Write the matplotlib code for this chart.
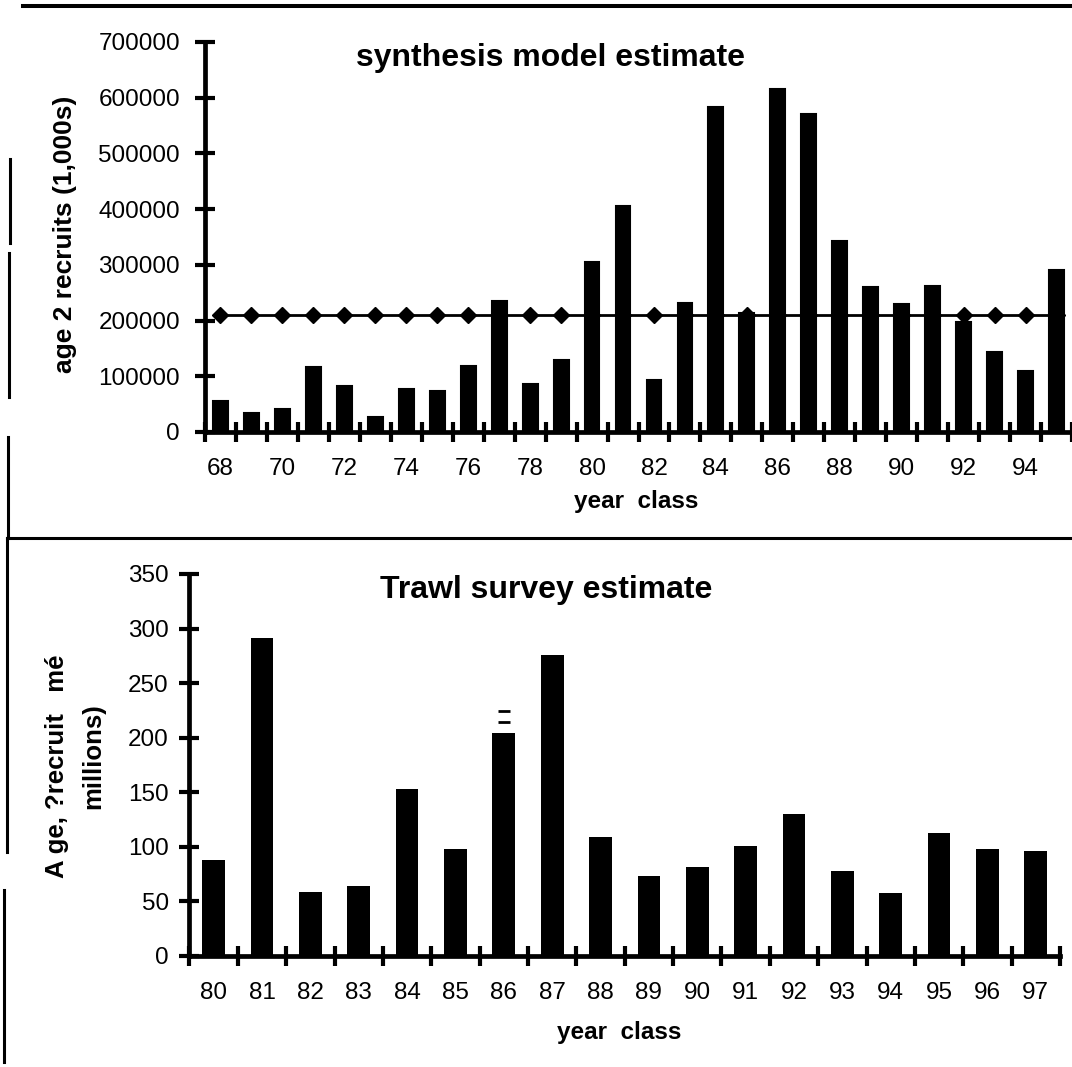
import matplotlib
matplotlib.use("Agg")
import matplotlib.pyplot as plt
from matplotlib.lines import Line2D

plt.rcParams['font.family'] = ['Liberation Sans', 'DejaVu Sans']

# synthesis model: age 2 recruits (1,000s) per year class
model_years = list(range(68, 96))
model_recruits = [55000, 35000, 41000, 117000, 83000, 27000, 78000, 74000, 119000, 236000,
                  86000, 129000, 306000, 405000, 93000, 232000, 584000, 213000, 616000, 570000,
                  343000, 260000, 230000, 262000, 198000, 144000, 109000, 290000]
model_mean = 210000
model_yticks = [0, 100000, 200000, 300000, 400000, 500000, 600000, 700000]

# trawl survey: age 2 recruits (millions) per year class
survey_years = list(range(80, 98))
survey_recruits = [88, 291, 59, 64, 153, 98, 204, 276, 109, 73.5,
                   82, 101, 130, 78, 58, 113, 98, 96]
survey_yticks = [0, 50, 100, 150, 200, 250, 300, 350]
marks_86 = [214, 224.5]

W, H = 1072, 1067
fig = plt.figure(figsize=(W / 100, H / 100), dpi=100)


def box(left, top, right, bottom):
    return [left / W, 1 - bottom / H, (right - left) / W, (bottom - top) / H]


def style_axes(ax, ypad):
    for s in ['top', 'right']:
        ax.spines[s].set_visible(False)
    for s in ['left', 'bottom']:
        ax.spines[s].set_linewidth(3.4)
    ax.tick_params(axis='y', direction='inout', length=14.4, width=3, pad=ypad, labelsize=17.5)
    ax.tick_params(axis='x', which='major', length=0, pad=19, labelsize=17.5)
    ax.tick_params(axis='x', which='minor', direction='inout', length=15, width=3)


# top panel
ax1 = fig.add_axes(box(205, 42, 1072, 432))
x1 = list(range(len(model_years)))
ax1.bar(x1, model_recruits, width=0.48, color='black', edgecolor='black', lw=1.5, zorder=3)
ax1.plot(x1, [model_mean] * len(x1), color='black', lw=2, marker='D', ms=8, zorder=2)
ax1.set_xlim(-0.5, 27.3)
ax1.set_ylim(0, 700000)
ax1.set_yticks(model_yticks, [str(v) for v in model_yticks])
ax1.set_xticks(x1[::2], [str(y) for y in model_years[::2]])
ax1.set_xticks([i - 0.5 for i in range(len(x1) + 1)], minor=True)
style_axes(ax1, 10.8)

# bottom panel
ax2 = fig.add_axes(box(189.4, 574, 1060, 956))
x2 = list(range(len(survey_years)))
ax2.bar(x2, survey_recruits, width=0.47, color='black', zorder=3)
ax2.plot([6, 6], marks_86, ls='none', marker='_', ms=9, mew=2, color='black')
ax2.set_xlim(-0.5, 17.5)
ax2.set_ylim(0, 350)
ax2.set_yticks(survey_yticks, [str(v) for v in survey_yticks])
ax2.set_xticks(x2, [str(y) for y in survey_years])
ax2.set_xticks([i - 0.5 for i in range(len(x2) + 1)], minor=True)
style_axes(ax2, 7.7)

# titles and axis labels
bold = dict(fontweight='bold', ha='center', va='center')
fig.text(550 / W, 1 - 58 / H, 'synthesis model estimate', fontsize=23, **bold)
fig.text(546 / W, 1 - 590 / H, 'Trawl survey estimate', fontsize=23, **bold)
fig.text(636 / W, 1 - 502 / H, 'year  class', fontsize=17.5, **bold)
fig.text(619 / W, 1 - 1033 / H, 'year  class', fontsize=17.5, **bold)
fig.text(65.5 / W, 1 - 234 / H, 'age 2 recruits (1,000s)', fontsize=19, rotation=90, **bold)
fig.text(57 / W, 1 - 766 / H, 'A ge, ?recruit   mé', fontsize=18.5, rotation=90, **bold)
fig.text(93 / W, 1 - 756 / H, 'millions)', fontsize=18.5, rotation=90, **bold)

# page rules around the panels
rules = [
    ((23, 1072), (6, 6), 2.9),
    ((7, 1072), (538, 538), 2.2),
    ((10, 10), (159, 243), 2.2),
    ((8.6, 8.6), (253, 397), 2.2),
    ((8, 8), (437, 538), 2.2),
    ((7, 7), (538, 852), 2.2),
    ((4, 4), (890, 1062), 2.2),
]
for xs, ys, lw in rules:
    fig.add_artist(Line2D([v / W for v in xs], [1 - v / H for v in ys],
                          transform=fig.transFigure, color='black', lw=lw))

fig.savefig('out.png', dpi=100)
